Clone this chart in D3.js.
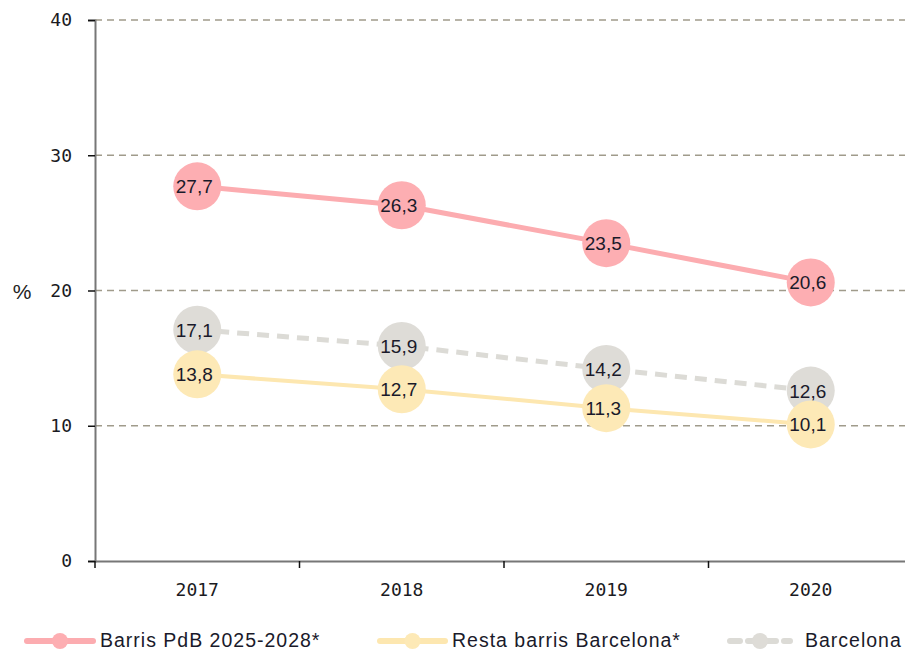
<!DOCTYPE html>
<html>
<head>
<meta charset="utf-8">
<script src="https://cdn.jsdelivr.net/npm/d3@7"></script>
<style>
  body { margin: 0; background: #fff; }
</style>
</head>
<body>
<div id="chart"></div>
<script>
var years = ["2017", "2018", "2019", "2020"];
var pdb = [27.7, 26.3, 23.5, 20.6];
var resta = [13.8, 12.7, 11.3, 10.1];
var bcn = [17.1, 15.9, 14.2, 12.6];
var yTicks = [0, 10, 20, 30, 40];

var series = [
    {name: "Barcelona", values: bcn, line: "#dcdbd6", dot: "#dedcd7", width: 5, dash: "12,8"},
    {name: "Resta barris Barcelona*", values: resta, line: "#fde7b0", dot: "#fde9b6", width: 4, dash: null},
    {name: "Barris PdB 2025-2028*", values: pdb, line: "#fcacb0", dot: "#fdaeb2", width: 5, dash: null}
];

var sans = "'Liberation Sans', Arial, sans-serif";
var mono = "'DejaVu Sans Mono', monospace";

var W = 905, H = 652;
var m = {left: 95, right: 913, top: 20, bottom: 561};

var svg = d3.select("#chart").append("svg")
    .attr("width", W)
    .attr("height", H)
    .style("font-family", sans);

var x = d3.scaleBand().domain(years).range([m.left, m.right]);
var y = d3.scaleLinear().domain([0, 40]).range([m.bottom, m.top]);

// gridlines
svg.append("g").selectAll("line")
    .data(yTicks.filter(function(d) { return d > 0; }))
    .enter().append("line")
    .attr("x1", m.left).attr("x2", W)
    .attr("y1", function(d) { return y(d); })
    .attr("y2", function(d) { return y(d); })
    .attr("stroke", "#a09b8b")
    .attr("stroke-width", 1.4)
    .attr("stroke-dasharray", "7,5");

// y axis
var yAxis = svg.append("g")
    .attr("transform", "translate(" + m.left + ",0)")
    .call(d3.axisLeft(y).tickValues(yTicks).tickSize(7).tickPadding(16));
yAxis.select(".domain").attr("stroke", "#777").attr("stroke-width", 2);
yAxis.selectAll(".tick line").attr("stroke", "#111").attr("stroke-width", 1.5);
yAxis.selectAll(".tick text")
    .style("font-size", "18px").style("font-family", mono).attr("fill", "#1a1a22");

// x axis
var xAxis = svg.append("g")
    .attr("transform", "translate(0," + m.bottom + ")")
    .call(d3.axisBottom(x).tickSize(0).tickPadding(22));
xAxis.select(".domain").attr("stroke", "#777").attr("stroke-width", 2);
xAxis.selectAll(".tick text")
    .style("font-size", "18px").style("font-family", mono).attr("fill", "#1a1a22");
xAxis.selectAll("line.sep")
    .data([m.left].concat(years.map(function(d) { return x(d) + x.bandwidth(); })))
    .enter().append("line")
    .attr("class", "sep")
    .attr("x1", function(d) { return d; }).attr("x2", function(d) { return d; })
    .attr("y1", 0).attr("y2", 7)
    .attr("stroke", "#111").attr("stroke-width", 1.5);

svg.append("text")
    .attr("x", 22).attr("y", 299)
    .attr("text-anchor", "middle")
    .style("font-size", "21px").attr("fill", "#222")
    .text("%");

var cx = function(i) { return x(years[i]) + x.bandwidth() / 2; };
var line = d3.line()
    .x(function(d, i) { return cx(i); })
    .y(function(d) { return y(d); });

series.forEach(function(s) {
    var g = svg.append("g");
    g.append("path")
        .datum(s.values)
        .attr("d", line)
        .attr("fill", "none")
        .attr("stroke", s.line)
        .attr("stroke-width", s.width)
        .attr("stroke-dasharray", s.dash);
    g.selectAll("circle")
        .data(s.values)
        .enter().append("circle")
        .attr("cx", function(d, i) { return cx(i); })
        .attr("cy", function(d) { return y(d); })
        .attr("r", 24)
        .attr("fill", s.dot);
    g.selectAll("text")
        .data(s.values)
        .enter().append("text")
        .attr("x", function(d, i) { return cx(i) - 3; })
        .attr("y", function(d) { return y(d) + 7; })
        .attr("text-anchor", "middle")
        .style("font-size", "19px").attr("fill", "#1a1a2a")
        .text(function(d) { return d3.format(".1f")(d).replace(".", ","); });
});

// legend
var legend = [
    {s: series[2], x: 27, w: 66, tx: 73},
    {s: series[1], x: 380, w: 65, tx: 72},
    {s: series[0], x: 730, w: 60, tx: 75}
];
var lg = svg.append("g").selectAll("g")
    .data(legend)
    .enter().append("g")
    .attr("transform", function(d) { return "translate(" + d.x + ",641)"; });
lg.append("line")
    .attr("x1", 0).attr("x2", function(d) { return d.w; })
    .attr("stroke", function(d) { return d.s.line; })
    .attr("stroke-width", 6)
    .attr("stroke-dasharray", function(d) { return d.s.dash ? "10,8" : null; })
    .attr("stroke-linecap", "round");
lg.append("circle")
    .attr("cx", function(d) { return d.w / 2; }).attr("r", 8)
    .attr("fill", function(d) { return d.s.dot; });
lg.append("text")
    .attr("x", function(d) { return d.tx; })
    .attr("y", 6)
    .style("font-size", "19.5px").style("letter-spacing", "1px").attr("fill", "#1a1a2a")
    .text(function(d) { return d.s.name; });
</script>
</body>
</html>
